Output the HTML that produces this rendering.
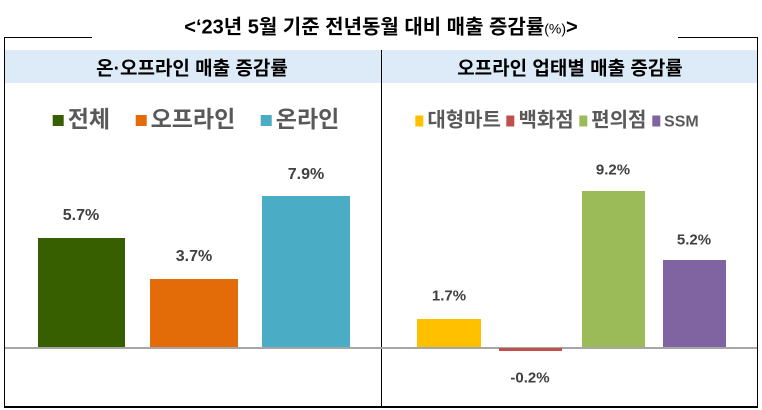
<!DOCTYPE html>
<html><head><meta charset="utf-8"><style>
body{margin:0;width:762px;height:410px;background:#fff;position:relative;overflow:hidden;font-family:"Liberation Sans","Noto Sans CJK KR",sans-serif;}
.a{position:absolute}
.t{position:absolute;transform:translate(-50%,-50%);white-space:nowrap;font-weight:bold;color:#404040}
.sq{display:inline-block;width:11px;height:11px;margin-right:4px;vertical-align:middle}
</style></head><body>
<div class="a" style="left:4px;top:37px;width:88px;height:1px;background:#000"></div>
<div class="a" style="left:678px;top:37px;width:80px;height:1px;background:#000"></div>
<div class="a" style="left:4px;top:37px;width:1px;height:370px;background:#000"></div>
<div class="a" style="left:757px;top:37px;width:1px;height:370px;background:#000"></div>
<div class="a" style="left:4px;top:406px;width:754px;height:2px;background:#000"></div>
<div class="t" style="left:381px;top:25px;font-size:20px;color:#000">&lt;‘23년 5월 기준 전년동월 대비 매출 증감률<span style="font-size:14px;font-weight:normal">(%)</span>&gt;</div>
<div class="a" style="left:5px;top:50px;width:752px;height:33px;background:#dcebf7"></div>
<div class="a" style="left:381px;top:50px;width:1px;height:357px;background:#000"></div>
<div class="t" style="left:192px;top:67px;font-size:19px;color:#000">온·오프라인 매출 증감률</div>
<div class="t" style="left:570px;top:67px;font-size:19px;color:#000">오프라인 업태별 매출 증감률</div>
<div class="t" style="left:196px;top:117px;font-size:23px;color:#595959"><span class="sq" style="background:#375f00"></span>전체&nbsp;&nbsp;&nbsp;&nbsp;<span class="sq" style="background:#e36c09"></span>오프라인&nbsp;&nbsp;&nbsp;&nbsp;<span class="sq" style="background:#4bacc6"></span>온라인</div>
<div class="t" style="left:557px;top:118px;font-size:20px;color:#595959"><span class="sq" style="background:#ffc000;width:8px"></span>대형마트 <span class="sq" style="background:#c0504d;width:8px"></span>백화점 <span class="sq" style="background:#9bbb59;width:8px"></span>편의점 <span class="sq" style="background:#8064a2;width:8px"></span><span style="font-size:16px">SSM</span></div>
<div class="a" style="left:5px;top:347px;width:752px;height:2px;background:#a6a6a6"></div>
<div class="a" style="left:38px;top:238px;width:87px;height:109px;background:#375f00"></div>
<div class="a" style="left:150px;top:279px;width:88px;height:68px;background:#e36c09"></div>
<div class="a" style="left:262px;top:196px;width:88px;height:151px;background:#4bacc6"></div>
<div class="t" style="left:81px;top:216px;font-size:16px">5.7%</div>
<div class="t" style="left:194px;top:257px;font-size:16px">3.7%</div>
<div class="t" style="left:306px;top:175px;font-size:16px">7.9%</div>
<div class="a" style="left:417px;top:319px;width:64px;height:28px;background:#ffc000"></div>
<div class="a" style="left:499px;top:348px;width:63px;height:3px;background:#c0504d"></div>
<div class="a" style="left:582px;top:191px;width:63px;height:156px;background:#9bbb59"></div>
<div class="a" style="left:663px;top:260px;width:63px;height:87px;background:#8064a2"></div>
<div class="t" style="left:449px;top:296px;font-size:15px">1.7%</div>
<div class="t" style="left:530px;top:378px;font-size:15px">-0.2%</div>
<div class="t" style="left:613px;top:170px;font-size:15px">9.2%</div>
<div class="t" style="left:694px;top:240px;font-size:15px">5.2%</div>
</body></html>
